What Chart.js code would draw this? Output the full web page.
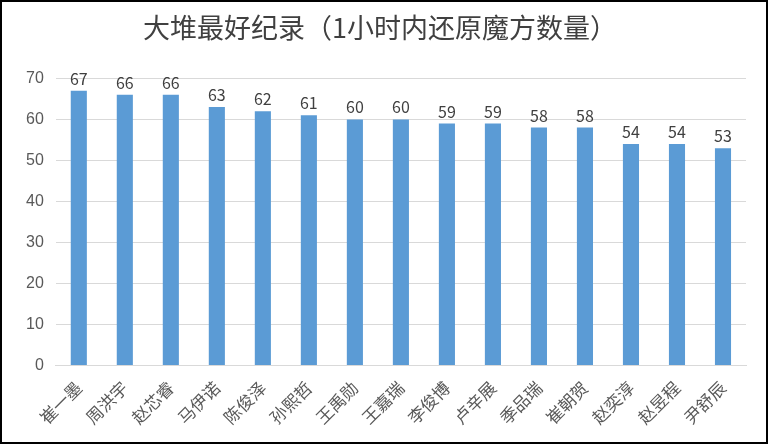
<!DOCTYPE html>
<html><head><meta charset="utf-8">
<script src="https://cdn.jsdelivr.net/npm/chart.js@4"></script>
<style>html,body{margin:0;padding:0;background:#fff}
#w{position:absolute;left:0;top:0;width:764px;height:440px;border:2px solid #000}
</style></head><body>
<div id="w"><canvas id="c" width="764" height="440"></canvas></div>
<script>
const categories=["崔一墨","周洪宇","赵芯睿","马伊诺","陈俊泽","孙熙哲","王禹勋","王嘉瑞","李俊博","卢辛展","季品瑞","崔朝贺","赵奕淳","赵昱程","尹舒辰"];
const values=[67,66,66,63,62,61,60,60,59,59,58,58,54,54,53];
const yTicks=[0,10,20,30,40,50,60,70];
const labelPlugin={id:'lbl',afterDatasetsDraw(ch){const c=ch.ctx;const m=ch.getDatasetMeta(0);c.save();c.fillStyle='#404040';c.font='16px "Noto Sans CJK SC", sans-serif';c.textAlign='center';c.textBaseline='bottom';m.data.forEach((b,i)=>c.fillText(values[i],b.x,b.y-4));c.restore();}};
new Chart(document.getElementById('c'),{type:'bar',
data:{labels:categories,datasets:[{data:values,backgroundColor:'#5B9BD5',categoryPercentage:1,barPercentage:0.35}]},
options:{responsive:false,animation:false,
layout:{padding:{left:12,right:20,top:0,bottom:10}},
plugins:{legend:{display:false},tooltip:{enabled:false},
title:{display:true,text:'大堆最好纪录（1小时内还原魔方数量）',color:'#404040',font:{size:27,weight:'normal',family:'"Noto Sans CJK SC"'},padding:{top:10,bottom:34}}},
scales:{y:{min:0,max:70,afterBuildTicks(a){a.ticks=yTicks.map(v=>({value:v}));},
ticks:{color:'#595959',font:{size:16},padding:12},grid:{color:'#d9d9d9',drawTicks:false},border:{display:false}},
x:{grid:{display:false},border:{color:'#d9d9d9'},ticks:{color:'#595959',font:{size:17,family:'"Noto Sans CJK SC"'},maxRotation:45,minRotation:45,padding:4}}}},
plugins:[labelPlugin]});
</script></body></html>
